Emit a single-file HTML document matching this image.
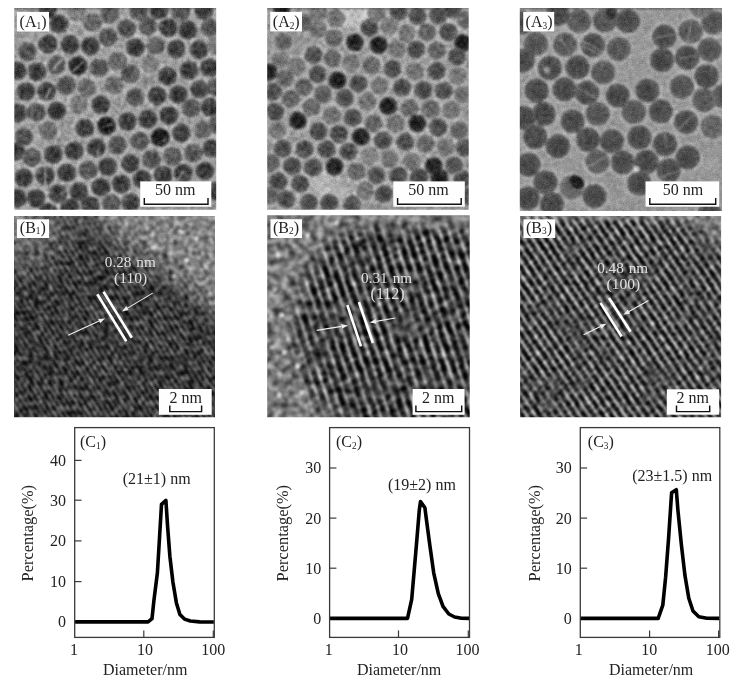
<!DOCTYPE html><html><head><meta charset="utf-8"><title>fig</title>
<style>html,body{margin:0;padding:0;background:#fff;overflow:hidden}svg{display:block}text{font-family:"Liberation Serif",serif}</style>
</head><body>
<svg width="738" height="690" viewBox="0 0 738 690">
<defs>
<radialGradient id="ga11" cx="0.5" cy="0.5" r="0.5"><stop offset="0" stop-color="#787878"/><stop offset="0.6" stop-color="#7a7a7a"/><stop offset="0.92" stop-color="#808080"/><stop offset="1" stop-color="#8c8c8c"/></radialGradient>
<radialGradient id="ga12" cx="0.5" cy="0.5" r="0.5"><stop offset="0" stop-color="#646464"/><stop offset="0.6" stop-color="#686868"/><stop offset="0.92" stop-color="#727272"/><stop offset="1" stop-color="#7e7e7e"/></radialGradient>
<radialGradient id="ga13" cx="0.5" cy="0.5" r="0.5"><stop offset="0" stop-color="#525252"/><stop offset="0.6" stop-color="#565656"/><stop offset="0.92" stop-color="#646464"/><stop offset="1" stop-color="#707070"/></radialGradient>
<radialGradient id="ga14" cx="0.5" cy="0.5" r="0.5"><stop offset="0" stop-color="#383838"/><stop offset="0.6" stop-color="#3e3e3e"/><stop offset="0.92" stop-color="#545454"/><stop offset="1" stop-color="#606060"/></radialGradient>
<radialGradient id="ga15" cx="0.5" cy="0.5" r="0.5"><stop offset="0" stop-color="#161616"/><stop offset="0.6" stop-color="#1e1e1e"/><stop offset="0.92" stop-color="#3e3e3e"/><stop offset="1" stop-color="#4a4a4a"/></radialGradient>
<radialGradient id="ga21" cx="0.5" cy="0.5" r="0.5"><stop offset="0" stop-color="#808080"/><stop offset="0.6" stop-color="#828282"/><stop offset="0.92" stop-color="#888888"/><stop offset="1" stop-color="#949494"/></radialGradient>
<radialGradient id="ga22" cx="0.5" cy="0.5" r="0.5"><stop offset="0" stop-color="#707070"/><stop offset="0.6" stop-color="#747474"/><stop offset="0.92" stop-color="#7c7c7c"/><stop offset="1" stop-color="#888888"/></radialGradient>
<radialGradient id="ga23" cx="0.5" cy="0.5" r="0.5"><stop offset="0" stop-color="#606060"/><stop offset="0.6" stop-color="#646464"/><stop offset="0.92" stop-color="#707070"/><stop offset="1" stop-color="#7c7c7c"/></radialGradient>
<radialGradient id="ga24" cx="0.5" cy="0.5" r="0.5"><stop offset="0" stop-color="#464646"/><stop offset="0.6" stop-color="#4e4e4e"/><stop offset="0.92" stop-color="#606060"/><stop offset="1" stop-color="#6c6c6c"/></radialGradient>
<radialGradient id="ga25" cx="0.5" cy="0.5" r="0.5"><stop offset="0" stop-color="#1a1a1a"/><stop offset="0.6" stop-color="#222222"/><stop offset="0.92" stop-color="#444444"/><stop offset="1" stop-color="#505050"/></radialGradient>
<radialGradient id="ga31" cx="0.5" cy="0.5" r="0.5"><stop offset="0" stop-color="#727272"/><stop offset="0.6" stop-color="#747474"/><stop offset="0.92" stop-color="#7c7c7c"/><stop offset="1" stop-color="#888888"/></radialGradient>
<radialGradient id="ga32" cx="0.5" cy="0.5" r="0.5"><stop offset="0" stop-color="#626262"/><stop offset="0.6" stop-color="#666666"/><stop offset="0.92" stop-color="#707070"/><stop offset="1" stop-color="#7c7c7c"/></radialGradient>
<radialGradient id="ga33" cx="0.5" cy="0.5" r="0.5"><stop offset="0" stop-color="#545454"/><stop offset="0.6" stop-color="#585858"/><stop offset="0.92" stop-color="#646464"/><stop offset="1" stop-color="#707070"/></radialGradient>
<radialGradient id="ga34" cx="0.5" cy="0.5" r="0.5"><stop offset="0" stop-color="#464646"/><stop offset="0.6" stop-color="#4c4c4c"/><stop offset="0.92" stop-color="#5a5a5a"/><stop offset="1" stop-color="#666666"/></radialGradient>
<radialGradient id="ga35" cx="0.5" cy="0.5" r="0.5"><stop offset="0" stop-color="#242424"/><stop offset="0.6" stop-color="#2e2e2e"/><stop offset="0.92" stop-color="#4c4c4c"/><stop offset="1" stop-color="#585858"/></radialGradient>
<filter id="fa1" filterUnits="userSpaceOnUse" x="-6" y="-6" width="215" height="215" color-interpolation-filters="sRGB"><feTurbulence type="fractalNoise" baseFrequency="0.3" numOctaves="2" seed="3" result="n"/><feColorMatrix in="n" type="matrix" values="1 0 0 0 0  1 0 0 0 0  1 0 0 0 0  0 0 0 0 1" result="ng"/><feComposite in="SourceGraphic" in2="ng" operator="arithmetic" k1="0" k2="1" k3="0.55" k4="-0.275" result="r0"/><feGaussianBlur in="r0" stdDeviation="0.85" result="r1a"/><feTurbulence type="fractalNoise" baseFrequency="0.85" numOctaves="1" seed="53" result="nf"/><feColorMatrix in="nf" type="matrix" values="1 0 0 0 0  1 0 0 0 0  1 0 0 0 0  0 0 0 0 1" result="nfg"/><feComposite in="r1a" in2="nfg" operator="arithmetic" k1="0" k2="1" k3="0.22" k4="-0.11" result="r1"/><feTurbulence type="fractalNoise" baseFrequency="0.06" numOctaves="2" seed="11" result="n2"/><feColorMatrix in="n2" type="matrix" values="1 0 0 0 0  1 0 0 0 0  1 0 0 0 0  0 0 0 0 1" result="ng2"/><feComposite in="r1" in2="ng2" operator="arithmetic" k1="0" k2="1" k3="0.14" k4="-0.07" result="r2"/></filter>
<filter id="fa2" filterUnits="userSpaceOnUse" x="-6" y="-6" width="215" height="215" color-interpolation-filters="sRGB"><feTurbulence type="fractalNoise" baseFrequency="0.3" numOctaves="2" seed="7" result="n"/><feColorMatrix in="n" type="matrix" values="1 0 0 0 0  1 0 0 0 0  1 0 0 0 0  0 0 0 0 1" result="ng"/><feComposite in="SourceGraphic" in2="ng" operator="arithmetic" k1="0" k2="1" k3="0.5" k4="-0.25" result="r0"/><feGaussianBlur in="r0" stdDeviation="0.9" result="r1a"/><feTurbulence type="fractalNoise" baseFrequency="0.85" numOctaves="1" seed="57" result="nf"/><feColorMatrix in="nf" type="matrix" values="1 0 0 0 0  1 0 0 0 0  1 0 0 0 0  0 0 0 0 1" result="nfg"/><feComposite in="r1a" in2="nfg" operator="arithmetic" k1="0" k2="1" k3="0.22" k4="-0.11" result="r1"/><feTurbulence type="fractalNoise" baseFrequency="0.06" numOctaves="2" seed="21" result="n2"/><feColorMatrix in="n2" type="matrix" values="1 0 0 0 0  1 0 0 0 0  1 0 0 0 0  0 0 0 0 1" result="ng2"/><feComposite in="r1" in2="ng2" operator="arithmetic" k1="0" k2="1" k3="0.14" k4="-0.07" result="r2"/></filter>
<filter id="fa3" filterUnits="userSpaceOnUse" x="-6" y="-6" width="215" height="215" color-interpolation-filters="sRGB"><feTurbulence type="fractalNoise" baseFrequency="0.32" numOctaves="2" seed="13" result="n"/><feColorMatrix in="n" type="matrix" values="1 0 0 0 0  1 0 0 0 0  1 0 0 0 0  0 0 0 0 1" result="ng"/><feComposite in="SourceGraphic" in2="ng" operator="arithmetic" k1="0" k2="1" k3="0.36" k4="-0.18" result="r0"/><feGaussianBlur in="r0" stdDeviation="0.82" result="r1a"/><feTurbulence type="fractalNoise" baseFrequency="0.85" numOctaves="1" seed="63" result="nf"/><feColorMatrix in="nf" type="matrix" values="1 0 0 0 0  1 0 0 0 0  1 0 0 0 0  0 0 0 0 1" result="nfg"/><feComposite in="r1a" in2="nfg" operator="arithmetic" k1="0" k2="1" k3="0.22" k4="-0.11" result="r1"/><feTurbulence type="fractalNoise" baseFrequency="0.06" numOctaves="2" seed="31" result="n2"/><feColorMatrix in="n2" type="matrix" values="1 0 0 0 0  1 0 0 0 0  1 0 0 0 0  0 0 0 0 1" result="ng2"/><feComposite in="r1" in2="ng2" operator="arithmetic" k1="0" k2="1" k3="0.08" k4="-0.04" result="r2"/></filter>
<filter id="halo" x="-30%" y="-30%" width="160%" height="160%"><feGaussianBlur stdDeviation="1.2"/></filter>
<filter id="soft6" x="-30%" y="-30%" width="160%" height="160%"><feGaussianBlur stdDeviation="6"/></filter>
<filter id="soft10" x="-30%" y="-30%" width="160%" height="160%"><feGaussianBlur stdDeviation="10"/></filter>
<filter id="soft3" x="-30%" y="-30%" width="160%" height="160%"><feGaussianBlur stdDeviation="3"/></filter>
<filter id="fb1c" filterUnits="userSpaceOnUse" x="-8" y="-8" width="219" height="219" color-interpolation-filters="sRGB"><feTurbulence type="fractalNoise" baseFrequency="0.03" numOctaves="2" seed="4" result="t1"/><feColorMatrix in="t1" type="matrix" values="1.8 0 0 0 -0.1  1.8 0 0 0 -0.1  1.8 0 0 0 -0.1  0 0 0 0 1" result="m1"/><feComposite in="SourceGraphic" in2="m1" operator="arithmetic" k1="1" k2="0" k3="-0.2" k4="0.2"/></filter><filter id="fb1" filterUnits="userSpaceOnUse" x="-6" y="-6" width="215" height="215" color-interpolation-filters="sRGB"><feTurbulence type="fractalNoise" baseFrequency="0.2" numOctaves="2" seed="8" result="t2"/><feColorMatrix in="t2" type="matrix" values="1 0 0 0 0  1 0 0 0 0  1 0 0 0 0  0 0 0 0 1" result="m2"/><feComposite in="SourceGraphic" in2="m2" operator="arithmetic" k1="0" k2="1" k3="0.85" k4="-0.425" result="s2"/><feGaussianBlur in="s2" stdDeviation="0.9" result="s2b"/><feTurbulence type="fractalNoise" baseFrequency="0.7" numOctaves="1" seed="15" result="t3"/><feColorMatrix in="t3" type="matrix" values="1 0 0 0 0  1 0 0 0 0  1 0 0 0 0  0 0 0 0 1" result="m3"/><feComposite in="s2b" in2="m3" operator="arithmetic" k1="0" k2="1" k3="0.1" k4="-0.05"/></filter>
<filter id="fb2c" filterUnits="userSpaceOnUse" x="-8" y="-8" width="219" height="219" color-interpolation-filters="sRGB"><feTurbulence type="fractalNoise" baseFrequency="0.025" numOctaves="2" seed="24" result="t1"/><feColorMatrix in="t1" type="matrix" values="1.8 0 0 0 -0.1  1.8 0 0 0 -0.1  1.8 0 0 0 -0.1  0 0 0 0 1" result="m1"/><feComposite in="SourceGraphic" in2="m1" operator="arithmetic" k1="1" k2="0" k3="-0.27" k4="0.27"/></filter><filter id="fb2" filterUnits="userSpaceOnUse" x="-6" y="-6" width="215" height="215" color-interpolation-filters="sRGB"><feTurbulence type="fractalNoise" baseFrequency="0.14" numOctaves="2" seed="28" result="t2"/><feColorMatrix in="t2" type="matrix" values="1 0 0 0 0  1 0 0 0 0  1 0 0 0 0  0 0 0 0 1" result="m2"/><feComposite in="SourceGraphic" in2="m2" operator="arithmetic" k1="0" k2="1" k3="0.9" k4="-0.45" result="s2"/><feGaussianBlur in="s2" stdDeviation="1.0" result="s2b"/><feTurbulence type="fractalNoise" baseFrequency="0.7" numOctaves="1" seed="35" result="t3"/><feColorMatrix in="t3" type="matrix" values="1 0 0 0 0  1 0 0 0 0  1 0 0 0 0  0 0 0 0 1" result="m3"/><feComposite in="s2b" in2="m3" operator="arithmetic" k1="0" k2="1" k3="0.08" k4="-0.04"/></filter>
<filter id="fb3c" filterUnits="userSpaceOnUse" x="-8" y="-8" width="219" height="219" color-interpolation-filters="sRGB"><feTurbulence type="fractalNoise" baseFrequency="0.025" numOctaves="2" seed="44" result="t1"/><feColorMatrix in="t1" type="matrix" values="2.0 0 0 0 -0.15  2.0 0 0 0 -0.15  2.0 0 0 0 -0.15  0 0 0 0 1" result="m1"/><feComposite in="SourceGraphic" in2="m1" operator="arithmetic" k1="1" k2="0" k3="-0.25" k4="0.25"/></filter><filter id="fb3" filterUnits="userSpaceOnUse" x="-6" y="-6" width="215" height="215" color-interpolation-filters="sRGB"><feTurbulence type="fractalNoise" baseFrequency="0.2" numOctaves="2" seed="48" result="t2"/><feColorMatrix in="t2" type="matrix" values="1 0 0 0 0  1 0 0 0 0  1 0 0 0 0  0 0 0 0 1" result="m2"/><feComposite in="SourceGraphic" in2="m2" operator="arithmetic" k1="0" k2="1" k3="0.95" k4="-0.475" result="s2"/><feGaussianBlur in="s2" stdDeviation="0.9" result="s2b"/><feTurbulence type="fractalNoise" baseFrequency="0.7" numOctaves="1" seed="55" result="t3"/><feColorMatrix in="t3" type="matrix" values="1 0 0 0 0  1 0 0 0 0  1 0 0 0 0  0 0 0 0 1" result="m3"/><feComposite in="s2b" in2="m3" operator="arithmetic" k1="0" k2="1" k3="0.08" k4="-0.04"/></filter>
<linearGradient id="pb1g" x1="0" y1="0" x2="1" y2="0"><stop offset="0" stop-color="#000000"/><stop offset="0.25" stop-color="#0a0a0a"/><stop offset="0.55" stop-color="#969696"/><stop offset="0.7" stop-color="#969696"/><stop offset="1" stop-color="#000000"/></linearGradient><pattern id="pb1" patternUnits="userSpaceOnUse" width="4.9" height="20" patternTransform="rotate(-32)"><rect x="0" y="0" width="4.9" height="20" fill="url(#pb1g)"/></pattern>
<linearGradient id="pb2g" x1="0" y1="0" x2="1" y2="0"><stop offset="0" stop-color="#000000"/><stop offset="0.4" stop-color="#0a0a0a"/><stop offset="0.64" stop-color="#bebebe"/><stop offset="0.78" stop-color="#bebebe"/><stop offset="0.94" stop-color="#1e1e1e"/><stop offset="1" stop-color="#000000"/></linearGradient><pattern id="pb2" patternUnits="userSpaceOnUse" width="8.9" height="20" patternTransform="rotate(-19)"><rect x="0" y="0" width="8.9" height="20" fill="url(#pb2g)"/></pattern>
<linearGradient id="pb2cg" x1="0" y1="0" x2="1" y2="0"><stop offset="0" stop-color="#000000"/><stop offset="0.5" stop-color="#ffffff"/><stop offset="1" stop-color="#000000"/></linearGradient><pattern id="pb2c" patternUnits="userSpaceOnUse" width="7.5" height="20" patternTransform="rotate(62)"><rect x="0" y="0" width="7.5" height="20" fill="url(#pb2cg)"/></pattern>
<linearGradient id="pb3g" x1="0" y1="0" x2="1" y2="0"><stop offset="0" stop-color="#000000"/><stop offset="0.4" stop-color="#080808"/><stop offset="0.6" stop-color="#d7d7d7"/><stop offset="0.74" stop-color="#d7d7d7"/><stop offset="0.92" stop-color="#191919"/><stop offset="1" stop-color="#000000"/></linearGradient><pattern id="pb3" patternUnits="userSpaceOnUse" width="7.4" height="20" patternTransform="rotate(-34)"><rect x="0" y="0" width="7.4" height="20" fill="url(#pb3g)"/></pattern>
<linearGradient id="pb3cg" x1="0" y1="0" x2="1" y2="0"><stop offset="0" stop-color="#000000"/><stop offset="0.5" stop-color="#ffffff"/><stop offset="1" stop-color="#000000"/></linearGradient><pattern id="pb3c" patternUnits="userSpaceOnUse" width="5" height="20" patternTransform="rotate(50)"><rect x="0" y="0" width="5" height="20" fill="url(#pb3cg)"/></pattern>
<linearGradient id="lgb1" gradientUnits="userSpaceOnUse" x1="124" y1="62" x2="146" y2="32"><stop offset="0" stop-color="#949494" stop-opacity="0"/><stop offset="1" stop-color="#949494" stop-opacity="0.8"/></linearGradient>
<radialGradient id="rgb1" gradientUnits="userSpaceOnUse" cx="0" cy="0" r="75"><stop offset="0" stop-color="#888" stop-opacity="0.75"/><stop offset="0.5" stop-color="#888" stop-opacity="0.55"/><stop offset="1" stop-color="#888" stop-opacity="0"/></radialGradient>
<radialGradient id="rgb2" gradientUnits="userSpaceOnUse" cx="145" cy="114" r="150"><stop offset="0" stop-color="#7e7e7e" stop-opacity="0"/><stop offset="0.7" stop-color="#7e7e7e" stop-opacity="0"/><stop offset="0.78" stop-color="#7e7e7e" stop-opacity="0.45"/><stop offset="0.87" stop-color="#7e7e7e" stop-opacity="0.93"/><stop offset="1" stop-color="#7e7e7e" stop-opacity="0.93"/></radialGradient>
<linearGradient id="lgb2t" gradientUnits="userSpaceOnUse" x1="0" y1="24" x2="0" y2="4"><stop offset="0" stop-color="#7e7e7e" stop-opacity="0"/><stop offset="1" stop-color="#7e7e7e" stop-opacity="0.85"/></linearGradient>
<linearGradient id="lgb3" gradientUnits="userSpaceOnUse" x1="172" y1="22" x2="184" y2="6"><stop offset="0" stop-color="#808080" stop-opacity="0"/><stop offset="1" stop-color="#808080" stop-opacity="0.85"/></linearGradient>
<linearGradient id="lgb3t" gradientUnits="userSpaceOnUse" x1="0" y1="9" x2="0" y2="1"><stop offset="0" stop-color="#8a8a8a" stop-opacity="0"/><stop offset="1" stop-color="#8a8a8a" stop-opacity="0.75"/></linearGradient>
<radialGradient id="rga2a" cx="0.5" cy="0.5" r="0.5"><stop offset="0" stop-color="#c8c8c8" stop-opacity="1"/><stop offset="0.5" stop-color="#c8c8c8" stop-opacity="0.8"/><stop offset="1" stop-color="#c8c8c8" stop-opacity="0"/></radialGradient>
<radialGradient id="rga2b" cx="0.5" cy="0.5" r="0.5"><stop offset="0" stop-color="#b4b4b4" stop-opacity="1"/><stop offset="0.5" stop-color="#b4b4b4" stop-opacity="0.8"/><stop offset="1" stop-color="#b4b4b4" stop-opacity="0"/></radialGradient>
</defs>
<svg x="14.3" y="8" width="201.9" height="201.8" viewBox="0 0 201.9 201.8">
<g filter="url(#fa1)">
<rect x="-8" y="-8" width="217.9" height="217.8" fill="#949494"/>

<g filter="url(#halo)" fill="none" stroke="#e0e0e0" stroke-width="1.7" opacity="0.5">
<circle cx="44.7" cy="16.1" r="10.799999999999999"/>
<circle cx="78.3" cy="14.6" r="10.799999999999999"/>
<circle cx="95.2" cy="5.9" r="10.799999999999999"/>
<circle cx="63" cy="4.4" r="10.799999999999999"/>
<circle cx="93.7" cy="29.3" r="10.799999999999999"/>
<circle cx="33.7" cy="35.9" r="10.799999999999999"/>
<circle cx="55.6" cy="36.6" r="10.799999999999999"/>
<circle cx="76.1" cy="38.1" r="10.799999999999999"/>
<circle cx="13.2" cy="43.9" r="10.799999999999999"/>
<circle cx="42.5" cy="57.1" r="10.799999999999999"/>
<circle cx="63.7" cy="57.8" r="10.799999999999999"/>
<circle cx="84.9" cy="60" r="10.799999999999999"/>
<circle cx="103" cy="53" r="10.799999999999999"/>
<circle cx="2.9" cy="63" r="10.799999999999999"/>
<circle cx="22.7" cy="63.7" r="10.799999999999999"/>
<circle cx="52" cy="77.6" r="10.799999999999999"/>
<circle cx="72.5" cy="79.8" r="10.799999999999999"/>
<circle cx="100" cy="77" r="10.799999999999999"/>
<circle cx="11.7" cy="83.5" r="10.799999999999999"/>
<circle cx="32.2" cy="83.5" r="10.799999999999999"/>
<circle cx="64.4" cy="97" r="10.799999999999999"/>
<circle cx="86.4" cy="97" r="10.799999999999999"/>
<circle cx="42.5" cy="103" r="10.799999999999999"/>
<circle cx="3.7" cy="105" r="10.799999999999999"/>
<circle cx="22" cy="104" r="10.799999999999999"/>
<circle cx="33.7" cy="1.5" r="10.799999999999999"/>
<circle cx="124.7" cy="3.7" r="10.799999999999999"/>
<circle cx="144.5" cy="2.2" r="10.799999999999999"/>
<circle cx="166.4" cy="4.4" r="10.799999999999999"/>
<circle cx="189.8" cy="2.9" r="10.799999999999999"/>
<circle cx="112.2" cy="20.5" r="10.799999999999999"/>
<circle cx="133.5" cy="18.3" r="10.799999999999999"/>
<circle cx="154" cy="19.8" r="10.799999999999999"/>
<circle cx="173.7" cy="22" r="10.799999999999999"/>
<circle cx="195.7" cy="19.8" r="10.799999999999999"/>
<circle cx="121" cy="39.5" r="10.799999999999999"/>
<circle cx="141.5" cy="37.3" r="10.799999999999999"/>
<circle cx="162" cy="41" r="10.799999999999999"/>
<circle cx="184.7" cy="41.7" r="10.799999999999999"/>
<circle cx="201.6" cy="38" r="10.799999999999999"/>
<circle cx="135.7" cy="55.6" r="10.799999999999999"/>
<circle cx="153.2" cy="68.1" r="10.799999999999999"/>
<circle cx="174.5" cy="62.2" r="10.799999999999999"/>
<circle cx="195" cy="60" r="10.799999999999999"/>
<circle cx="115.9" cy="65.9" r="10.799999999999999"/>
<circle cx="121" cy="89.3" r="10.799999999999999"/>
<circle cx="143" cy="87.8" r="10.799999999999999"/>
<circle cx="164.2" cy="86.4" r="10.799999999999999"/>
<circle cx="185.5" cy="81.3" r="10.799999999999999"/>
<circle cx="201.6" cy="79" r="10.799999999999999"/>
<circle cx="195.7" cy="99" r="10.799999999999999"/>
<circle cx="176.7" cy="100" r="10.799999999999999"/>
<circle cx="9.5" cy="128.8" r="10.799999999999999"/>
<circle cx="33.7" cy="123" r="10.799999999999999"/>
<circle cx="70.3" cy="120" r="10.799999999999999"/>
<circle cx="92.2" cy="117.8" r="10.799999999999999"/>
<circle cx="1.5" cy="143.5" r="10.799999999999999"/>
<circle cx="17.6" cy="149.3" r="10.799999999999999"/>
<circle cx="38.8" cy="146.4" r="10.799999999999999"/>
<circle cx="60" cy="142.7" r="10.799999999999999"/>
<circle cx="82" cy="139.8" r="10.799999999999999"/>
<circle cx="103" cy="137" r="10.799999999999999"/>
<circle cx="9.5" cy="169.8" r="10.799999999999999"/>
<circle cx="30.7" cy="167.6" r="10.799999999999999"/>
<circle cx="52.7" cy="164.7" r="10.799999999999999"/>
<circle cx="73.9" cy="161.8" r="10.799999999999999"/>
<circle cx="93.7" cy="158.8" r="10.799999999999999"/>
<circle cx="2.9" cy="190.3" r="10.799999999999999"/>
<circle cx="22" cy="190.3" r="10.799999999999999"/>
<circle cx="43.9" cy="185.9" r="10.799999999999999"/>
<circle cx="64.4" cy="183.7" r="10.799999999999999"/>
<circle cx="86.4" cy="179.3" r="10.799999999999999"/>
<circle cx="107" cy="176" r="10.799999999999999"/>
<circle cx="55.6" cy="199.8" r="10.799999999999999"/>
<circle cx="76.1" cy="197.6" r="10.799999999999999"/>
<circle cx="97.2" cy="195.5" r="10.799999999999999"/>
<circle cx="33.7" cy="204" r="10.799999999999999"/>
<circle cx="113" cy="113.4" r="10.799999999999999"/>
<circle cx="133.5" cy="111.2" r="10.799999999999999"/>
<circle cx="154.7" cy="107.6" r="10.799999999999999"/>
<circle cx="125.4" cy="133.2" r="10.799999999999999"/>
<circle cx="145.9" cy="129.5" r="10.799999999999999"/>
<circle cx="167.2" cy="125.2" r="10.799999999999999"/>
<circle cx="188.4" cy="121.5" r="10.799999999999999"/>
<circle cx="203" cy="117" r="10.799999999999999"/>
<circle cx="115.9" cy="155.2" r="10.799999999999999"/>
<circle cx="137.1" cy="151.5" r="10.799999999999999"/>
<circle cx="158.4" cy="148.6" r="10.799999999999999"/>
<circle cx="178.9" cy="144.9" r="10.799999999999999"/>
<circle cx="197.2" cy="140.5" r="10.799999999999999"/>
<circle cx="127.6" cy="171.3" r="10.799999999999999"/>
<circle cx="148.9" cy="166.9" r="10.799999999999999"/>
<circle cx="169.3" cy="165.4" r="10.799999999999999"/>
<circle cx="190.6" cy="163.2" r="10.799999999999999"/>
<circle cx="116.6" cy="194.7" r="10.799999999999999"/>
<circle cx="201.6" cy="183" r="10.799999999999999"/>
</g>
<circle cx="44.7" cy="16.1" r="9.6" fill="url(#ga14)"/>
<circle cx="78.3" cy="14.6" r="9.6" fill="url(#ga12)"/>
<circle cx="95.2" cy="5.9" r="9.6" fill="url(#ga13)"/>
<circle cx="63" cy="4.4" r="9.6" fill="url(#ga11)"/>
<circle cx="93.7" cy="29.3" r="9.6" fill="url(#ga13)"/>
<circle cx="33.7" cy="35.9" r="9.6" fill="url(#ga14)"/>
<circle cx="55.6" cy="36.6" r="9.6" fill="url(#ga14)"/>
<circle cx="76.1" cy="38.1" r="9.6" fill="url(#ga14)"/>
<circle cx="13.2" cy="43.9" r="9.6" fill="url(#ga13)"/>
<circle cx="42.5" cy="57.1" r="9.6" fill="url(#ga13)"/>
<circle cx="63.7" cy="57.8" r="9.6" fill="url(#ga15)"/>
<circle cx="84.9" cy="60" r="9.6" fill="url(#ga13)"/>
<circle cx="103" cy="53" r="9.6" fill="url(#ga12)"/>
<circle cx="2.9" cy="63" r="9.6" fill="url(#ga14)"/>
<circle cx="22.7" cy="63.7" r="9.6" fill="url(#ga14)"/>
<circle cx="52" cy="77.6" r="9.6" fill="url(#ga13)"/>
<circle cx="72.5" cy="79.8" r="9.6" fill="url(#ga12)"/>
<circle cx="100" cy="77" r="9.6" fill="url(#ga12)"/>
<circle cx="11.7" cy="83.5" r="9.6" fill="url(#ga14)"/>
<circle cx="32.2" cy="83.5" r="9.6" fill="url(#ga14)"/>
<circle cx="64.4" cy="97" r="9.6" fill="url(#ga11)"/>
<circle cx="86.4" cy="97" r="9.6" fill="url(#ga14)"/>
<circle cx="42.5" cy="103" r="9.6" fill="url(#ga14)"/>
<circle cx="3.7" cy="105" r="9.6" fill="url(#ga14)"/>
<circle cx="22" cy="104" r="9.6" fill="url(#ga13)"/>
<circle cx="33.7" cy="1.5" r="9.6" fill="url(#ga14)"/>
<circle cx="124.7" cy="3.7" r="9.6" fill="url(#ga13)"/>
<circle cx="144.5" cy="2.2" r="9.6" fill="url(#ga14)"/>
<circle cx="166.4" cy="4.4" r="9.6" fill="url(#ga13)"/>
<circle cx="189.8" cy="2.9" r="9.6" fill="url(#ga14)"/>
<circle cx="112.2" cy="20.5" r="9.6" fill="url(#ga13)"/>
<circle cx="133.5" cy="18.3" r="9.6" fill="url(#ga13)"/>
<circle cx="154" cy="19.8" r="9.6" fill="url(#ga14)"/>
<circle cx="173.7" cy="22" r="9.6" fill="url(#ga14)"/>
<circle cx="195.7" cy="19.8" r="9.6" fill="url(#ga13)"/>
<circle cx="121" cy="39.5" r="9.6" fill="url(#ga14)"/>
<circle cx="141.5" cy="37.3" r="9.6" fill="url(#ga12)"/>
<circle cx="162" cy="41" r="9.6" fill="url(#ga14)"/>
<circle cx="184.7" cy="41.7" r="9.6" fill="url(#ga14)"/>
<circle cx="201.6" cy="38" r="9.6" fill="url(#ga11)"/>
<circle cx="135.7" cy="55.6" r="9.6" fill="url(#ga11)"/>
<circle cx="153.2" cy="68.1" r="9.6" fill="url(#ga14)"/>
<circle cx="174.5" cy="62.2" r="9.6" fill="url(#ga14)"/>
<circle cx="195" cy="60" r="9.6" fill="url(#ga14)"/>
<circle cx="115.9" cy="65.9" r="9.6" fill="url(#ga13)"/>
<circle cx="121" cy="89.3" r="9.6" fill="url(#ga13)"/>
<circle cx="143" cy="87.8" r="9.6" fill="url(#ga14)"/>
<circle cx="164.2" cy="86.4" r="9.6" fill="url(#ga14)"/>
<circle cx="185.5" cy="81.3" r="9.6" fill="url(#ga14)"/>
<circle cx="201.6" cy="79" r="9.6" fill="url(#ga13)"/>
<circle cx="195.7" cy="99" r="9.6" fill="url(#ga14)"/>
<circle cx="176.7" cy="100" r="9.6" fill="url(#ga13)"/>
<circle cx="9.5" cy="128.8" r="9.6" fill="url(#ga13)"/>
<circle cx="33.7" cy="123" r="9.6" fill="url(#ga12)"/>
<circle cx="70.3" cy="120" r="9.6" fill="url(#ga14)"/>
<circle cx="92.2" cy="117.8" r="9.6" fill="url(#ga15)"/>
<circle cx="1.5" cy="143.5" r="9.6" fill="url(#ga14)"/>
<circle cx="17.6" cy="149.3" r="9.6" fill="url(#ga13)"/>
<circle cx="38.8" cy="146.4" r="9.6" fill="url(#ga14)"/>
<circle cx="60" cy="142.7" r="9.6" fill="url(#ga14)"/>
<circle cx="82" cy="139.8" r="9.6" fill="url(#ga14)"/>
<circle cx="103" cy="137" r="9.6" fill="url(#ga13)"/>
<circle cx="9.5" cy="169.8" r="9.6" fill="url(#ga14)"/>
<circle cx="30.7" cy="167.6" r="9.6" fill="url(#ga14)"/>
<circle cx="52.7" cy="164.7" r="9.6" fill="url(#ga14)"/>
<circle cx="73.9" cy="161.8" r="9.6" fill="url(#ga13)"/>
<circle cx="93.7" cy="158.8" r="9.6" fill="url(#ga14)"/>
<circle cx="2.9" cy="190.3" r="9.6" fill="url(#ga14)"/>
<circle cx="22" cy="190.3" r="9.6" fill="url(#ga14)"/>
<circle cx="43.9" cy="185.9" r="9.6" fill="url(#ga14)"/>
<circle cx="64.4" cy="183.7" r="9.6" fill="url(#ga14)"/>
<circle cx="86.4" cy="179.3" r="9.6" fill="url(#ga14)"/>
<circle cx="107" cy="176" r="9.6" fill="url(#ga14)"/>
<circle cx="55.6" cy="199.8" r="9.6" fill="url(#ga14)"/>
<circle cx="76.1" cy="197.6" r="9.6" fill="url(#ga14)"/>
<circle cx="97.2" cy="195.5" r="9.6" fill="url(#ga13)"/>
<circle cx="33.7" cy="204" r="9.6" fill="url(#ga14)"/>
<circle cx="113" cy="113.4" r="9.6" fill="url(#ga14)"/>
<circle cx="133.5" cy="111.2" r="9.6" fill="url(#ga14)"/>
<circle cx="154.7" cy="107.6" r="9.6" fill="url(#ga14)"/>
<circle cx="125.4" cy="133.2" r="9.6" fill="url(#ga13)"/>
<circle cx="145.9" cy="129.5" r="9.6" fill="url(#ga15)"/>
<circle cx="167.2" cy="125.2" r="9.6" fill="url(#ga14)"/>
<circle cx="188.4" cy="121.5" r="9.6" fill="url(#ga12)"/>
<circle cx="203" cy="117" r="9.6" fill="url(#ga13)"/>
<circle cx="115.9" cy="155.2" r="9.6" fill="url(#ga14)"/>
<circle cx="137.1" cy="151.5" r="9.6" fill="url(#ga13)"/>
<circle cx="158.4" cy="148.6" r="9.6" fill="url(#ga13)"/>
<circle cx="178.9" cy="144.9" r="9.6" fill="url(#ga13)"/>
<circle cx="197.2" cy="140.5" r="9.6" fill="url(#ga14)"/>
<circle cx="127.6" cy="171.3" r="9.6" fill="url(#ga14)"/>
<circle cx="148.9" cy="166.9" r="9.6" fill="url(#ga14)"/>
<circle cx="169.3" cy="165.4" r="9.6" fill="url(#ga14)"/>
<circle cx="190.6" cy="163.2" r="9.6" fill="url(#ga14)"/>
<circle cx="116.6" cy="194.7" r="9.6" fill="url(#ga14)"/>
<circle cx="201.6" cy="183" r="9.6" fill="url(#ga14)"/>
<g stroke="#d0d0d0" stroke-width="1.3" opacity="0.85" stroke-linecap="round"><path d="M38 62 L47 52"/><path d="M59 63 L69 54"/><path d="M31 159 L31 176"/><path d="M88 119 L98 116"/><path d="M83 142 L84 148"/><path d="M164 171 L169 163"/><path d="M46 186 L52 183"/><path d="M32 90 L36 80"/><path d="M148 133 L151 131"/></g>
<rect x="-8" y="-1" width="217.9" height="2" fill="#303030" opacity="0.55"/>
</g>
</svg>
<svg x="267.2" y="8" width="201.5" height="201.8" viewBox="0 0 201.5 201.8">
<g filter="url(#fa2)">
<rect x="-8" y="-8" width="217.5" height="217.8" fill="#939393"/>
<ellipse cx="92" cy="8" rx="26" ry="20" fill="url(#rga2a)"/><ellipse cx="63" cy="177" rx="30" ry="22" fill="url(#rga2b)"/>
<g filter="url(#halo)" fill="none" stroke="#e0e0e0" stroke-width="1.7" opacity="0.5">
<circle cx="51.2" cy="5.1" r="10.399999999999999"/>
<circle cx="68.8" cy="10.2" r="10.399999999999999"/>
<circle cx="50.5" cy="21.2" r="10.399999999999999"/>
<circle cx="66.6" cy="30" r="10.399999999999999"/>
<circle cx="87.8" cy="34.4" r="10.399999999999999"/>
<circle cx="102.5" cy="19.5" r="10.399999999999999"/>
<circle cx="16.1" cy="33.7" r="10.399999999999999"/>
<circle cx="46.1" cy="46.9" r="10.399999999999999"/>
<circle cx="65.2" cy="50.5" r="10.399999999999999"/>
<circle cx="83.5" cy="54.9" r="10.399999999999999"/>
<circle cx="13.2" cy="52" r="10.399999999999999"/>
<circle cx="29.3" cy="58.6" r="10.399999999999999"/>
<circle cx="1.5" cy="64.4" r="10.399999999999999"/>
<circle cx="50.5" cy="65.9" r="10.399999999999999"/>
<circle cx="70.3" cy="72.5" r="10.399999999999999"/>
<circle cx="91.5" cy="75.4" r="10.399999999999999"/>
<circle cx="17.6" cy="70.3" r="10.399999999999999"/>
<circle cx="36.6" cy="79" r="10.399999999999999"/>
<circle cx="55.6" cy="86.4" r="10.399999999999999"/>
<circle cx="77.6" cy="90" r="10.399999999999999"/>
<circle cx="5.9" cy="83.5" r="10.399999999999999"/>
<circle cx="23.4" cy="90.8" r="10.399999999999999"/>
<circle cx="44" cy="99.5" r="10.399999999999999"/>
<circle cx="100" cy="93.7" r="10.399999999999999"/>
<circle cx="8" cy="103.5" r="10.399999999999999"/>
<circle cx="36.6" cy="14.6" r="10.399999999999999"/>
<circle cx="104" cy="57" r="10.399999999999999"/>
<circle cx="14.6" cy="0" r="10.399999999999999"/>
<circle cx="131.3" cy="3.7" r="10.399999999999999"/>
<circle cx="150.3" cy="8" r="10.399999999999999"/>
<circle cx="170.8" cy="7.3" r="10.399999999999999"/>
<circle cx="185.5" cy="1.5" r="10.399999999999999"/>
<circle cx="198.6" cy="11.7" r="10.399999999999999"/>
<circle cx="122.5" cy="17.6" r="10.399999999999999"/>
<circle cx="139.3" cy="25.6" r="10.399999999999999"/>
<circle cx="159.8" cy="24.2" r="10.399999999999999"/>
<circle cx="181.1" cy="24.2" r="10.399999999999999"/>
<circle cx="195.7" cy="35.1" r="10.399999999999999"/>
<circle cx="111.5" cy="37.3" r="10.399999999999999"/>
<circle cx="129.8" cy="41" r="10.399999999999999"/>
<circle cx="148.9" cy="41.7" r="10.399999999999999"/>
<circle cx="169.3" cy="42.5" r="10.399999999999999"/>
<circle cx="189.8" cy="49" r="10.399999999999999"/>
<circle cx="125.4" cy="60.8" r="10.399999999999999"/>
<circle cx="147.4" cy="63.7" r="10.399999999999999"/>
<circle cx="169.3" cy="63" r="10.399999999999999"/>
<circle cx="190.6" cy="68.1" r="10.399999999999999"/>
<circle cx="112.2" cy="77.6" r="10.399999999999999"/>
<circle cx="134.9" cy="79.8" r="10.399999999999999"/>
<circle cx="156.2" cy="82" r="10.399999999999999"/>
<circle cx="176.7" cy="82.7" r="10.399999999999999"/>
<circle cx="196.4" cy="86.4" r="10.399999999999999"/>
<circle cx="121" cy="98" r="10.399999999999999"/>
<circle cx="142.3" cy="100" r="10.399999999999999"/>
<circle cx="163.5" cy="101" r="10.399999999999999"/>
<circle cx="184" cy="102" r="10.399999999999999"/>
<circle cx="109.3" cy="5.1" r="10.399999999999999"/>
<circle cx="30.7" cy="112.7" r="10.399999999999999"/>
<circle cx="64.4" cy="107.6" r="10.399999999999999"/>
<circle cx="85.7" cy="109.8" r="10.399999999999999"/>
<circle cx="10.2" cy="122.2" r="10.399999999999999"/>
<circle cx="51.2" cy="123" r="10.399999999999999"/>
<circle cx="71.7" cy="125.9" r="10.399999999999999"/>
<circle cx="93.7" cy="128.8" r="10.399999999999999"/>
<circle cx="15.4" cy="140.5" r="10.399999999999999"/>
<circle cx="37.3" cy="141.3" r="10.399999999999999"/>
<circle cx="59.3" cy="141.3" r="10.399999999999999"/>
<circle cx="81.3" cy="143.5" r="10.399999999999999"/>
<circle cx="102" cy="148" r="10.399999999999999"/>
<circle cx="3.7" cy="155.2" r="10.399999999999999"/>
<circle cx="24.9" cy="158.1" r="10.399999999999999"/>
<circle cx="46.1" cy="159.6" r="10.399999999999999"/>
<circle cx="67.3" cy="158.8" r="10.399999999999999"/>
<circle cx="89.3" cy="163.2" r="10.399999999999999"/>
<circle cx="11" cy="173.5" r="10.399999999999999"/>
<circle cx="32.9" cy="175.7" r="10.399999999999999"/>
<circle cx="98" cy="183" r="10.399999999999999"/>
<circle cx="19" cy="191" r="10.399999999999999"/>
<circle cx="41.7" cy="194.7" r="10.399999999999999"/>
<circle cx="62.2" cy="194.7" r="10.399999999999999"/>
<circle cx="84.9" cy="196.2" r="10.399999999999999"/>
<circle cx="2.2" cy="187.4" r="10.399999999999999"/>
<circle cx="106.4" cy="115.6" r="10.399999999999999"/>
<circle cx="128.4" cy="115.6" r="10.399999999999999"/>
<circle cx="150.3" cy="115.6" r="10.399999999999999"/>
<circle cx="170.8" cy="119.3" r="10.399999999999999"/>
<circle cx="192" cy="122.2" r="10.399999999999999"/>
<circle cx="115.9" cy="132.5" r="10.399999999999999"/>
<circle cx="137.9" cy="133.9" r="10.399999999999999"/>
<circle cx="158.4" cy="136.1" r="10.399999999999999"/>
<circle cx="178.9" cy="139.1" r="10.399999999999999"/>
<circle cx="197.2" cy="139.8" r="10.399999999999999"/>
<circle cx="122.5" cy="150.8" r="10.399999999999999"/>
<circle cx="144.5" cy="153.7" r="10.399999999999999"/>
<circle cx="166.4" cy="158.1" r="10.399999999999999"/>
<circle cx="186.9" cy="157.4" r="10.399999999999999"/>
<circle cx="109.3" cy="167.6" r="10.399999999999999"/>
<circle cx="131.3" cy="167.6" r="10.399999999999999"/>
<circle cx="151.8" cy="169.1" r="10.399999999999999"/>
<circle cx="172.3" cy="169.8" r="10.399999999999999"/>
<circle cx="195.7" cy="171.3" r="10.399999999999999"/>
<circle cx="116.6" cy="185.9" r="10.399999999999999"/>
<circle cx="201.6" cy="188.8" r="10.399999999999999"/>
</g>
<circle cx="51.2" cy="5.1" r="9.2" fill="url(#ga22)"/>
<circle cx="68.8" cy="10.2" r="9.2" fill="url(#ga22)"/>
<circle cx="50.5" cy="21.2" r="9.2" fill="url(#ga22)"/>
<circle cx="66.6" cy="30" r="9.2" fill="url(#ga23)"/>
<circle cx="87.8" cy="34.4" r="9.2" fill="url(#ga25)"/>
<circle cx="102.5" cy="19.5" r="9.2" fill="url(#ga24)"/>
<circle cx="16.1" cy="33.7" r="9.2" fill="url(#ga23)"/>
<circle cx="46.1" cy="46.9" r="9.2" fill="url(#ga24)"/>
<circle cx="65.2" cy="50.5" r="9.2" fill="url(#ga23)"/>
<circle cx="83.5" cy="54.9" r="9.2" fill="url(#ga22)"/>
<circle cx="13.2" cy="52" r="9.2" fill="url(#ga22)"/>
<circle cx="29.3" cy="58.6" r="9.2" fill="url(#ga22)"/>
<circle cx="1.5" cy="64.4" r="9.2" fill="url(#ga25)"/>
<circle cx="50.5" cy="65.9" r="9.2" fill="url(#ga24)"/>
<circle cx="70.3" cy="72.5" r="9.2" fill="url(#ga25)"/>
<circle cx="91.5" cy="75.4" r="9.2" fill="url(#ga24)"/>
<circle cx="17.6" cy="70.3" r="9.2" fill="url(#ga23)"/>
<circle cx="36.6" cy="79" r="9.2" fill="url(#ga23)"/>
<circle cx="55.6" cy="86.4" r="9.2" fill="url(#ga23)"/>
<circle cx="77.6" cy="90" r="9.2" fill="url(#ga24)"/>
<circle cx="5.9" cy="83.5" r="9.2" fill="url(#ga24)"/>
<circle cx="23.4" cy="90.8" r="9.2" fill="url(#ga23)"/>
<circle cx="44" cy="99.5" r="9.2" fill="url(#ga23)"/>
<circle cx="100" cy="93.7" r="9.2" fill="url(#ga22)"/>
<circle cx="8" cy="103.5" r="9.2" fill="url(#ga24)"/>
<circle cx="36.6" cy="14.6" r="9.2" fill="url(#ga23)"/>
<circle cx="104" cy="57" r="9.2" fill="url(#ga23)"/>
<circle cx="14.6" cy="0" r="9.2" fill="url(#ga25)"/>
<circle cx="131.3" cy="3.7" r="9.2" fill="url(#ga24)"/>
<circle cx="150.3" cy="8" r="9.2" fill="url(#ga24)"/>
<circle cx="170.8" cy="7.3" r="9.2" fill="url(#ga24)"/>
<circle cx="185.5" cy="1.5" r="9.2" fill="url(#ga24)"/>
<circle cx="198.6" cy="11.7" r="9.2" fill="url(#ga23)"/>
<circle cx="122.5" cy="17.6" r="9.2" fill="url(#ga22)"/>
<circle cx="139.3" cy="25.6" r="9.2" fill="url(#ga22)"/>
<circle cx="159.8" cy="24.2" r="9.2" fill="url(#ga23)"/>
<circle cx="181.1" cy="24.2" r="9.2" fill="url(#ga24)"/>
<circle cx="195.7" cy="35.1" r="9.2" fill="url(#ga25)"/>
<circle cx="111.5" cy="37.3" r="9.2" fill="url(#ga25)"/>
<circle cx="129.8" cy="41" r="9.2" fill="url(#ga22)"/>
<circle cx="148.9" cy="41.7" r="9.2" fill="url(#ga24)"/>
<circle cx="169.3" cy="42.5" r="9.2" fill="url(#ga23)"/>
<circle cx="189.8" cy="49" r="9.2" fill="url(#ga24)"/>
<circle cx="125.4" cy="60.8" r="9.2" fill="url(#ga24)"/>
<circle cx="147.4" cy="63.7" r="9.2" fill="url(#ga22)"/>
<circle cx="169.3" cy="63" r="9.2" fill="url(#ga24)"/>
<circle cx="190.6" cy="68.1" r="9.2" fill="url(#ga22)"/>
<circle cx="112.2" cy="77.6" r="9.2" fill="url(#ga22)"/>
<circle cx="134.9" cy="79.8" r="9.2" fill="url(#ga24)"/>
<circle cx="156.2" cy="82" r="9.2" fill="url(#ga24)"/>
<circle cx="176.7" cy="82.7" r="9.2" fill="url(#ga24)"/>
<circle cx="196.4" cy="86.4" r="9.2" fill="url(#ga22)"/>
<circle cx="121" cy="98" r="9.2" fill="url(#ga25)"/>
<circle cx="142.3" cy="100" r="9.2" fill="url(#ga23)"/>
<circle cx="163.5" cy="101" r="9.2" fill="url(#ga23)"/>
<circle cx="184" cy="102" r="9.2" fill="url(#ga22)"/>
<circle cx="109.3" cy="5.1" r="9.2" fill="url(#ga22)"/>
<circle cx="30.7" cy="112.7" r="9.2" fill="url(#ga25)"/>
<circle cx="64.4" cy="107.6" r="9.2" fill="url(#ga22)"/>
<circle cx="85.7" cy="109.8" r="9.2" fill="url(#ga24)"/>
<circle cx="10.2" cy="122.2" r="9.2" fill="url(#ga22)"/>
<circle cx="51.2" cy="123" r="9.2" fill="url(#ga24)"/>
<circle cx="71.7" cy="125.9" r="9.2" fill="url(#ga24)"/>
<circle cx="93.7" cy="128.8" r="9.2" fill="url(#ga25)"/>
<circle cx="15.4" cy="140.5" r="9.2" fill="url(#ga24)"/>
<circle cx="37.3" cy="141.3" r="9.2" fill="url(#ga24)"/>
<circle cx="59.3" cy="141.3" r="9.2" fill="url(#ga24)"/>
<circle cx="81.3" cy="143.5" r="9.2" fill="url(#ga24)"/>
<circle cx="102" cy="148" r="9.2" fill="url(#ga21)"/>
<circle cx="3.7" cy="155.2" r="9.2" fill="url(#ga23)"/>
<circle cx="24.9" cy="158.1" r="9.2" fill="url(#ga24)"/>
<circle cx="46.1" cy="159.6" r="9.2" fill="url(#ga24)"/>
<circle cx="67.3" cy="158.8" r="9.2" fill="url(#ga25)"/>
<circle cx="89.3" cy="163.2" r="9.2" fill="url(#ga23)"/>
<circle cx="11" cy="173.5" r="9.2" fill="url(#ga24)"/>
<circle cx="32.9" cy="175.7" r="9.2" fill="url(#ga24)"/>
<circle cx="98" cy="183" r="9.2" fill="url(#ga22)"/>
<circle cx="19" cy="191" r="9.2" fill="url(#ga24)"/>
<circle cx="41.7" cy="194.7" r="9.2" fill="url(#ga24)"/>
<circle cx="62.2" cy="194.7" r="9.2" fill="url(#ga24)"/>
<circle cx="84.9" cy="196.2" r="9.2" fill="url(#ga24)"/>
<circle cx="2.2" cy="187.4" r="9.2" fill="url(#ga23)"/>
<circle cx="106.4" cy="115.6" r="9.2" fill="url(#ga23)"/>
<circle cx="128.4" cy="115.6" r="9.2" fill="url(#ga22)"/>
<circle cx="150.3" cy="115.6" r="9.2" fill="url(#ga25)"/>
<circle cx="170.8" cy="119.3" r="9.2" fill="url(#ga24)"/>
<circle cx="192" cy="122.2" r="9.2" fill="url(#ga23)"/>
<circle cx="115.9" cy="132.5" r="9.2" fill="url(#ga24)"/>
<circle cx="137.9" cy="133.9" r="9.2" fill="url(#ga24)"/>
<circle cx="158.4" cy="136.1" r="9.2" fill="url(#ga23)"/>
<circle cx="178.9" cy="139.1" r="9.2" fill="url(#ga22)"/>
<circle cx="197.2" cy="139.8" r="9.2" fill="url(#ga24)"/>
<circle cx="122.5" cy="150.8" r="9.2" fill="url(#ga22)"/>
<circle cx="144.5" cy="153.7" r="9.2" fill="url(#ga22)"/>
<circle cx="166.4" cy="158.1" r="9.2" fill="url(#ga25)"/>
<circle cx="186.9" cy="157.4" r="9.2" fill="url(#ga24)"/>
<circle cx="109.3" cy="167.6" r="9.2" fill="url(#ga24)"/>
<circle cx="131.3" cy="167.6" r="9.2" fill="url(#ga24)"/>
<circle cx="151.8" cy="169.1" r="9.2" fill="url(#ga24)"/>
<circle cx="172.3" cy="169.8" r="9.2" fill="url(#ga25)"/>
<circle cx="195.7" cy="171.3" r="9.2" fill="url(#ga24)"/>
<circle cx="116.6" cy="185.9" r="9.2" fill="url(#ga24)"/>
<circle cx="201.6" cy="188.8" r="9.2" fill="url(#ga24)"/>

<rect x="-8" y="-1" width="217.5" height="2" fill="#303030" opacity="0.55"/>
</g>
</svg>
<svg x="519.8" y="8" width="202.2" height="203.1" viewBox="0 0 202.2 203.1">
<g filter="url(#fa3)">
<rect x="-8" y="-8" width="218.2" height="219.1" fill="#969696"/>

<g filter="url(#halo)" fill="none" stroke="#e0e0e0" stroke-width="1.7" opacity="0.5">
<circle cx="59.3" cy="13.2" r="13.399999999999999"/>
<circle cx="84.9" cy="12.4" r="13.399999999999999"/>
<circle cx="16.1" cy="35.9" r="13.399999999999999"/>
<circle cx="45.4" cy="36.6" r="13.399999999999999"/>
<circle cx="73.2" cy="37.3" r="13.399999999999999"/>
<circle cx="99" cy="41" r="13.399999999999999"/>
<circle cx="2.9" cy="52.7" r="13.399999999999999"/>
<circle cx="30" cy="60" r="13.399999999999999"/>
<circle cx="57.8" cy="59.3" r="13.399999999999999"/>
<circle cx="83.5" cy="64.4" r="13.399999999999999"/>
<circle cx="16.8" cy="82.7" r="13.399999999999999"/>
<circle cx="44.7" cy="81.3" r="13.399999999999999"/>
<circle cx="67.3" cy="84.9" r="13.399999999999999"/>
<circle cx="98" cy="87.5" r="13.399999999999999"/>
<circle cx="24" cy="106" r="13.399999999999999"/>
<circle cx="78" cy="106" r="13.399999999999999"/>
<circle cx="38" cy="5.9" r="13.399999999999999"/>
<circle cx="1.5" cy="14.6" r="13.399999999999999"/>
<circle cx="108" cy="13" r="13.399999999999999"/>
<circle cx="144.5" cy="28.6" r="13.399999999999999"/>
<circle cx="170.8" cy="23.4" r="13.399999999999999"/>
<circle cx="193.5" cy="14.6" r="13.399999999999999"/>
<circle cx="142.3" cy="52" r="13.399999999999999"/>
<circle cx="167.2" cy="49.8" r="13.399999999999999"/>
<circle cx="189.8" cy="41.7" r="13.399999999999999"/>
<circle cx="186.9" cy="68.1" r="13.399999999999999"/>
<circle cx="127.6" cy="82.7" r="13.399999999999999"/>
<circle cx="162" cy="79" r="13.399999999999999"/>
<circle cx="184" cy="92" r="13.399999999999999"/>
<circle cx="141" cy="103.5" r="13.399999999999999"/>
<circle cx="114" cy="104" r="13.399999999999999"/>
<circle cx="181" cy="-2" r="13.399999999999999"/>
<circle cx="204" cy="88" r="13.399999999999999"/>
<circle cx="3.7" cy="109.8" r="13.399999999999999"/>
<circle cx="52.7" cy="113.4" r="13.399999999999999"/>
<circle cx="15.4" cy="128.8" r="13.399999999999999"/>
<circle cx="38" cy="138.3" r="13.399999999999999"/>
<circle cx="68" cy="131.7" r="13.399999999999999"/>
<circle cx="92.2" cy="133.2" r="13.399999999999999"/>
<circle cx="8.8" cy="156.6" r="13.399999999999999"/>
<circle cx="77.6" cy="153.7" r="13.399999999999999"/>
<circle cx="103" cy="154.5" r="13.399999999999999"/>
<circle cx="25.6" cy="174.2" r="13.399999999999999"/>
<circle cx="52" cy="179.3" r="13.399999999999999"/>
<circle cx="74.7" cy="188.1" r="13.399999999999999"/>
<circle cx="8" cy="190.3" r="13.399999999999999"/>
<circle cx="32.2" cy="196.2" r="13.399999999999999"/>
<circle cx="166.4" cy="114.2" r="13.399999999999999"/>
<circle cx="192.8" cy="118.6" r="13.399999999999999"/>
<circle cx="119.6" cy="129.5" r="13.399999999999999"/>
<circle cx="145.2" cy="136.1" r="13.399999999999999"/>
<circle cx="167.9" cy="149.3" r="13.399999999999999"/>
<circle cx="126.9" cy="153.7" r="13.399999999999999"/>
<circle cx="148.9" cy="162.5" r="13.399999999999999"/>
<circle cx="119.6" cy="175.7" r="13.399999999999999"/>
<circle cx="190" cy="206" r="13.399999999999999"/>
</g>
<circle cx="59.3" cy="13.2" r="12.2" fill="url(#ga33)"/>
<circle cx="84.9" cy="12.4" r="12.2" fill="url(#ga33)"/>
<circle cx="16.1" cy="35.9" r="12.2" fill="url(#ga33)"/>
<circle cx="45.4" cy="36.6" r="12.2" fill="url(#ga33)"/>
<circle cx="73.2" cy="37.3" r="12.2" fill="url(#ga34)"/>
<circle cx="99" cy="41" r="12.2" fill="url(#ga33)"/>
<circle cx="2.9" cy="52.7" r="12.2" fill="url(#ga34)"/>
<circle cx="30" cy="60" r="12.2" fill="url(#ga34)"/>
<circle cx="57.8" cy="59.3" r="12.2" fill="url(#ga34)"/>
<circle cx="83.5" cy="64.4" r="12.2" fill="url(#ga33)"/>
<circle cx="16.8" cy="82.7" r="12.2" fill="url(#ga34)"/>
<circle cx="44.7" cy="81.3" r="12.2" fill="url(#ga34)"/>
<circle cx="67.3" cy="84.9" r="12.2" fill="url(#ga34)"/>
<circle cx="98" cy="87.5" r="12.2" fill="url(#ga34)"/>
<circle cx="24" cy="106" r="12.2" fill="url(#ga34)"/>
<circle cx="78" cy="106" r="12.2" fill="url(#ga33)"/>
<circle cx="38" cy="5.9" r="12.2" fill="url(#ga34)"/>
<circle cx="1.5" cy="14.6" r="12.2" fill="url(#ga34)"/>
<circle cx="108" cy="13" r="12.2" fill="url(#ga34)"/>
<circle cx="144.5" cy="28.6" r="12.2" fill="url(#ga34)"/>
<circle cx="170.8" cy="23.4" r="12.2" fill="url(#ga33)"/>
<circle cx="193.5" cy="14.6" r="12.2" fill="url(#ga33)"/>
<circle cx="142.3" cy="52" r="12.2" fill="url(#ga34)"/>
<circle cx="167.2" cy="49.8" r="12.2" fill="url(#ga34)"/>
<circle cx="189.8" cy="41.7" r="12.2" fill="url(#ga33)"/>
<circle cx="186.9" cy="68.1" r="12.2" fill="url(#ga34)"/>
<circle cx="127.6" cy="82.7" r="12.2" fill="url(#ga34)"/>
<circle cx="162" cy="79" r="12.2" fill="url(#ga33)"/>
<circle cx="184" cy="92" r="12.2" fill="url(#ga33)"/>
<circle cx="141" cy="103.5" r="12.2" fill="url(#ga34)"/>
<circle cx="114" cy="104" r="12.2" fill="url(#ga33)"/>
<circle cx="181" cy="-2" r="12.2" fill="url(#ga31)"/>
<circle cx="204" cy="88" r="12.2" fill="url(#ga33)"/>
<circle cx="3.7" cy="109.8" r="12.2" fill="url(#ga34)"/>
<circle cx="52.7" cy="113.4" r="12.2" fill="url(#ga34)"/>
<circle cx="15.4" cy="128.8" r="12.2" fill="url(#ga34)"/>
<circle cx="38" cy="138.3" r="12.2" fill="url(#ga34)"/>
<circle cx="68" cy="131.7" r="12.2" fill="url(#ga34)"/>
<circle cx="92.2" cy="133.2" r="12.2" fill="url(#ga34)"/>
<circle cx="8.8" cy="156.6" r="12.2" fill="url(#ga34)"/>
<circle cx="77.6" cy="153.7" r="12.2" fill="url(#ga33)"/>
<circle cx="103" cy="154.5" r="12.2" fill="url(#ga34)"/>
<circle cx="25.6" cy="174.2" r="12.2" fill="url(#ga34)"/>
<circle cx="52" cy="179.3" r="12.2" fill="url(#ga32)"/>
<circle cx="74.7" cy="188.1" r="12.2" fill="url(#ga34)"/>
<circle cx="8" cy="190.3" r="12.2" fill="url(#ga34)"/>
<circle cx="32.2" cy="196.2" r="12.2" fill="url(#ga34)"/>
<circle cx="166.4" cy="114.2" r="12.2" fill="url(#ga34)"/>
<circle cx="192.8" cy="118.6" r="12.2" fill="url(#ga32)"/>
<circle cx="119.6" cy="129.5" r="12.2" fill="url(#ga34)"/>
<circle cx="145.2" cy="136.1" r="12.2" fill="url(#ga34)"/>
<circle cx="167.9" cy="149.3" r="12.2" fill="url(#ga34)"/>
<circle cx="126.9" cy="153.7" r="12.2" fill="url(#ga34)"/>
<circle cx="148.9" cy="162.5" r="12.2" fill="url(#ga34)"/>
<circle cx="119.6" cy="175.7" r="12.2" fill="url(#ga34)"/>
<circle cx="190" cy="206" r="12.2" fill="url(#ga34)"/>
<g stroke="#a8a8a8" stroke-width="1.5" opacity="0.6" stroke-linecap="round"><path d="M62 33 L84 44"/><path d="M63 38 L83 48"/><path d="M66 160 L90 147"/><path d="M58 80 L76 90"/><path d="M145 126 L146 140"/><path d="M158 122 L172 108"/><path d="M140 170 L160 162"/><path d="M40 30 L50 44"/><path d="M160 50 L176 48"/><path d="M135 30 L155 26"/><path d="M172 12 L168 34"/></g><ellipse cx="57" cy="174" rx="8" ry="6" fill="#101010" opacity="0.85" transform="rotate(35 57 174)"/><ellipse cx="92" cy="5" rx="6" ry="5" fill="#202020" opacity="0.7"/><circle cx="27" cy="62" r="3.5" fill="#b0b0b0" opacity="0.7"/><circle cx="116.6" cy="161" r="3" fill="#e8e8e8" opacity="0.8"/>
<rect x="-8" y="-1" width="218.2" height="2" fill="#303030" opacity="0.55"/>
</g>
</svg>
<svg x="14" y="216" width="201" height="201.2" viewBox="0 0 201 201.2">
<g filter="url(#fb1)">
<rect x="-8" y="-8" width="220" height="220" fill="url(#pb1)" filter="url(#fb1c)"/><rect x="-8" y="-8" width="220" height="220" fill="#2a2a2a" opacity="0.32"/><rect x="-8" y="-8" width="220" height="220" fill="url(#lgb1)"/><rect x="-8" y="-8" width="220" height="220" fill="url(#rgb1)"/><circle cx="139.5" cy="18.3" r="2.4" fill="#fff" opacity="0.55"/><circle cx="151.2" cy="22.7" r="2.4" fill="#fff" opacity="0.55"/><circle cx="138.8" cy="31.5" r="2.4" fill="#fff" opacity="0.55"/><circle cx="166.6" cy="15.4" r="2.4" fill="#fff" opacity="0.55"/><circle cx="192.2" cy="51.2" r="2.4" fill="#fff" opacity="0.55"/><circle cx="173.2" cy="43.9" r="2.4" fill="#fff" opacity="0.55"/><circle cx="183" cy="22" r="2.4" fill="#fff" opacity="0.55"/><circle cx="196" cy="78" r="2.4" fill="#fff" opacity="0.55"/><circle cx="160" cy="60" r="2.4" fill="#fff" opacity="0.55"/><circle cx="168" cy="51" r="2.6" fill="#000" opacity="0.5"/><circle cx="130" cy="27" r="2.6" fill="#000" opacity="0.5"/><circle cx="150" cy="40" r="2.6" fill="#000" opacity="0.5"/>
</g></svg>
<svg x="267.2" y="215.2" width="202.5" height="202" viewBox="0 0 202.5 202">
<g filter="url(#fb2)">
<rect x="-8" y="-8" width="220" height="220" fill="url(#pb2)" filter="url(#fb2c)"/><rect x="-8" y="-8" width="220" height="220" fill="url(#pb2c)" opacity="0.1"/><rect x="-8" y="-8" width="220" height="220" fill="url(#rgb2)"/><rect x="-8" y="-8" width="220" height="220" fill="url(#lgb2t)"/><circle cx="21.4" cy="123.3" r="2.6" fill="#fff" opacity="0.6"/><circle cx="30.8" cy="150.7" r="2.6" fill="#fff" opacity="0.6"/><circle cx="35" cy="177.2" r="2.6" fill="#fff" opacity="0.6"/><circle cx="46.2" cy="171.2" r="2.6" fill="#fff" opacity="0.6"/><circle cx="17.1" cy="137.8" r="2.6" fill="#fff" opacity="0.6"/><circle cx="4.3" cy="131.9" r="2.6" fill="#fff" opacity="0.6"/><circle cx="45.3" cy="196" r="2.6" fill="#fff" opacity="0.6"/><circle cx="7.3" cy="74.6" r="2.6" fill="#fff" opacity="0.6"/><circle cx="14" cy="100" r="2.6" fill="#fff" opacity="0.6"/><circle cx="24" cy="58" r="2.6" fill="#fff" opacity="0.6"/><circle cx="10" cy="40" r="2.6" fill="#fff" opacity="0.6"/><circle cx="40" cy="20" r="2.6" fill="#fff" opacity="0.6"/><circle cx="70" cy="8" r="2.6" fill="#fff" opacity="0.6"/><circle cx="12" cy="180" r="2.6" fill="#fff" opacity="0.6"/><circle cx="102.5" cy="19" r="3.2" fill="#000" opacity="0.65"/><circle cx="112.7" cy="22" r="3.2" fill="#000" opacity="0.65"/><circle cx="92" cy="28" r="3.2" fill="#000" opacity="0.65"/>
</g></svg>
<svg x="520.1" y="216" width="201" height="201.2" viewBox="0 0 201 201.2">
<g filter="url(#fb3)">
<rect x="-8" y="-8" width="220" height="220" fill="url(#pb3)" filter="url(#fb3c)"/><rect x="-8" y="-8" width="220" height="220" fill="url(#pb3c)" opacity="0.12"/><rect x="-8" y="-8" width="220" height="220" fill="url(#lgb3)"/><rect x="-8" y="-8" width="220" height="220" fill="url(#lgb3t)"/>
</g></svg>
<g opacity="0.996">
<rect x="16.9" y="11.9" width="32.1" height="19.6" fill="#fff"/>
<text x="19.6" y="26.8" font-size="16" fill="#222">(A<tspan font-size="9.3" dy="1.7">1</tspan><tspan dy="-1.7">)</tspan></text>
<rect x="270.2" y="11.9" width="31.8" height="19.5" fill="#fff"/>
<text x="272.8" y="26.8" font-size="16" fill="#222">(A<tspan font-size="9.3" dy="1.7">2</tspan><tspan dy="-1.7">)</tspan></text>
<rect x="523.2" y="11.9" width="31" height="19.5" fill="#fff"/>
<text x="525.6" y="26.8" font-size="16" fill="#222">(A<tspan font-size="9.3" dy="1.7">3</tspan><tspan dy="-1.7">)</tspan></text>
<rect x="16.9" y="219.3" width="32.2" height="18.7" fill="#fff"/>
<text x="19.8" y="232.7" font-size="16" fill="#222">(B<tspan font-size="9.3" dy="1.7">1</tspan><tspan dy="-1.7">)</tspan></text>
<rect x="270.5" y="219.2" width="31.5" height="18.8" fill="#fff"/>
<text x="273" y="232.6" font-size="16" fill="#222">(B<tspan font-size="9.3" dy="1.7">2</tspan><tspan dy="-1.7">)</tspan></text>
<rect x="523.4" y="219.3" width="31.8" height="18.7" fill="#fff"/>
<text x="526" y="232.7" font-size="16" fill="#222">(B<tspan font-size="9.3" dy="1.7">3</tspan><tspan dy="-1.7">)</tspan></text>
<rect x="140.2" y="181.4" width="71.1" height="25.3" fill="#fff"/>
<path d="M144.3 198.0 V204.2 H208 V198.0" fill="none" stroke="#111" stroke-width="1.45"/>
<text x="175.3" y="194.7" font-size="16" fill="#222" text-anchor="middle">50 nm</text>
<rect x="393.3" y="181.4" width="71.5" height="25.3" fill="#fff"/>
<path d="M397.6 198.0 V204.2 H461.2 V198.0" fill="none" stroke="#111" stroke-width="1.45"/>
<text x="428.6" y="194.7" font-size="16" fill="#222" text-anchor="middle">50 nm</text>
<rect x="645.5" y="181.4" width="73.7" height="25.3" fill="#fff"/>
<path d="M649.8 198.0 V204.2 H715.7 V198.0" fill="none" stroke="#111" stroke-width="1.45"/>
<text x="683.1" y="194.7" font-size="16" fill="#222" text-anchor="middle">50 nm</text>
<rect x="158.9" y="389" width="52.8" height="25.8" fill="#fff"/>
<path d="M169.8 405.40000000000003 V411.6 H201.6 V405.40000000000003" fill="none" stroke="#111" stroke-width="1.45"/>
<text x="185.8" y="402.5" font-size="16" fill="#222" text-anchor="middle">2 nm</text>
<rect x="412.6" y="389" width="52" height="25.8" fill="#fff"/>
<path d="M415.9 405.40000000000003 V411.6 H461.7 V405.40000000000003" fill="none" stroke="#111" stroke-width="1.45"/>
<text x="438.3" y="402.5" font-size="16" fill="#222" text-anchor="middle">2 nm</text>
<rect x="666.8" y="389.3" width="52.3" height="25.4" fill="#fff"/>
<path d="M676.5 405.40000000000003 V411.6 H709.7 V405.40000000000003" fill="none" stroke="#111" stroke-width="1.45"/>
<text x="692.8" y="402.5" font-size="16" fill="#222" text-anchor="middle">2 nm</text>
<path d="M97.3 294.3 L126.3 341.2" stroke="#fff" stroke-width="2.6" fill="none"/><path d="M103.5 291.7 L131.8 337.8" stroke="#fff" stroke-width="2.6" fill="none"/>
<path d="M152.7 293.1 L127.5 308.1" stroke="#eee" stroke-width="1.1" fill="none"/><path d="M121.9 311.4 L126.3 306.0 L128.7 310.1Z" fill="#eee"/>
<path d="M68.2 335.3 L99.1 321.1" stroke="#eee" stroke-width="1.1" fill="none"/><path d="M105.0 318.4 L100.1 323.3 L98.1 318.9Z" fill="#eee"/>
<text x="130.3" y="266.9" font-size="15.2" fill="#e2e2e2" text-anchor="middle" word-spacing="1.2">0.28 nm</text>
<text x="130.6" y="282.7" font-size="15.5" fill="#e2e2e2" text-anchor="middle" word-spacing="1.2">(110)</text>
<path d="M347.3 305 L361 346.3" stroke="#fff" stroke-width="2.6" fill="none"/><path d="M358.9 302 L372.9 343" stroke="#fff" stroke-width="2.6" fill="none"/>
<path d="M316.7 330.4 L341.6 326.4" stroke="#eee" stroke-width="1.1" fill="none"/><path d="M348.0 325.4 L342.0 328.8 L341.2 324.1Z" fill="#eee"/>
<path d="M395.3 318.0 L376.0 321.4" stroke="#eee" stroke-width="1.1" fill="none"/><path d="M369.6 322.5 L375.6 319.0 L376.4 323.7Z" fill="#eee"/>
<text x="386.6" y="283.3" font-size="15.2" fill="#e2e2e2" text-anchor="middle" word-spacing="1.2">0.31 nm</text>
<text x="387.6" y="298.9" font-size="16" fill="#e2e2e2" text-anchor="middle" word-spacing="1.2">(112)</text>
<path d="M600.5 302.9 L621.6 336.5" stroke="#fff" stroke-width="2.6" fill="none"/><path d="M609 298 L630.6 331.7" stroke="#fff" stroke-width="2.6" fill="none"/>
<path d="M648.5 300.4 L629.0 311.6" stroke="#eee" stroke-width="1.1" fill="none"/><path d="M623.4 314.8 L627.8 309.5 L630.2 313.6Z" fill="#eee"/>
<path d="M583.6 334.7 L600.5 326.6" stroke="#eee" stroke-width="1.1" fill="none"/><path d="M606.4 323.8 L601.6 328.8 L599.5 324.4Z" fill="#eee"/>
<text x="622.7" y="273.2" font-size="15.2" fill="#e2e2e2" text-anchor="middle" word-spacing="1.2">0.48 nm</text>
<text x="623.3" y="288.7" font-size="15.5" fill="#e2e2e2" text-anchor="middle" word-spacing="1.2">(100)</text>
<rect x="74.7" y="427.6" width="139.60000000000002" height="209.79999999999995" fill="#fff" stroke="#3a3a3a" stroke-width="1.3"/>
<path d="M74.7 460.4 h6.8" stroke="#3a3a3a" stroke-width="1.2"/>
<text x="66" y="465.79999999999995" font-size="16" fill="#222" text-anchor="end">40</text>
<path d="M74.7 500.2 h6.8" stroke="#3a3a3a" stroke-width="1.2"/>
<text x="66" y="505.59999999999997" font-size="16" fill="#222" text-anchor="end">30</text>
<path d="M74.7 540.9 h6.8" stroke="#3a3a3a" stroke-width="1.2"/>
<text x="66" y="546.3" font-size="16" fill="#222" text-anchor="end">20</text>
<path d="M74.7 581.6 h6.8" stroke="#3a3a3a" stroke-width="1.2"/>
<text x="66" y="587.0" font-size="16" fill="#222" text-anchor="end">10</text>
<path d="M74.7 621.9 h6.8" stroke="#3a3a3a" stroke-width="1.2"/>
<text x="66" y="627.3" font-size="16" fill="#222" text-anchor="end">0</text>
<text x="74" y="655.3" font-size="16" fill="#222" text-anchor="middle">1</text>
<path d="M143.8 637.4 v-7" stroke="#3a3a3a" stroke-width="1.2"/>
<text x="144.9" y="655.3" font-size="16" fill="#222" text-anchor="middle">10</text>
<path d="M213.3 637.4 v-7" stroke="#3a3a3a" stroke-width="1.2"/>
<text x="213.2" y="655.3" font-size="16" fill="#222" text-anchor="middle">100</text>
<path d="M75.2 621.9 L148.1 621.9 L152.0 618.7 L153.9 600.6 L157.4 572.8 L159.5 538.0 L161.5 504.3 L165.9 500.4 L167.6 526.4 L169.9 556.5 L172.9 582.0 L176.4 602.9 L179.9 614.5 L184.5 619.1 L190.3 621.0 L199.6 621.9 L213.8 622.0" fill="none" stroke="#000" stroke-width="3.6" stroke-linejoin="round" stroke-linecap="butt"/>
<text x="80" y="447" font-size="16" fill="#222">(C<tspan font-size="9.3" dy="1.7">1</tspan><tspan dy="-1.7">)</tspan></text>
<text x="122.7" y="484.2" font-size="16" fill="#222">(21±1) nm</text>
<text transform="translate(32.9 533.2) rotate(-90)" font-size="16.4" fill="#222" text-anchor="middle">Percentage(%)</text>
<text x="145.2" y="674.6" font-size="16" fill="#222" text-anchor="middle">Diameter/nm</text>
<rect x="329.6" y="427.6" width="139.89999999999998" height="209.79999999999995" fill="#fff" stroke="#3a3a3a" stroke-width="1.3"/>
<path d="M329.6 468 h6.8" stroke="#3a3a3a" stroke-width="1.2"/>
<text x="321.3" y="473.4" font-size="16" fill="#222" text-anchor="end">30</text>
<path d="M329.6 518.1 h6.8" stroke="#3a3a3a" stroke-width="1.2"/>
<text x="321.3" y="523.5" font-size="16" fill="#222" text-anchor="end">20</text>
<path d="M329.6 568.2 h6.8" stroke="#3a3a3a" stroke-width="1.2"/>
<text x="321.3" y="573.6" font-size="16" fill="#222" text-anchor="end">10</text>
<path d="M329.6 618.3 h6.8" stroke="#3a3a3a" stroke-width="1.2"/>
<text x="321.3" y="623.6999999999999" font-size="16" fill="#222" text-anchor="end">0</text>
<text x="328.7" y="655.3" font-size="16" fill="#222" text-anchor="middle">1</text>
<path d="M398.5 637.4 v-7" stroke="#3a3a3a" stroke-width="1.2"/>
<text x="400" y="655.3" font-size="16" fill="#222" text-anchor="middle">10</text>
<path d="M468.3 637.4 v-7" stroke="#3a3a3a" stroke-width="1.2"/>
<text x="467.5" y="655.3" font-size="16" fill="#222" text-anchor="middle">100</text>
<path d="M330.1 618.4 L407.5 618.4 L411.7 599.4 L414.0 572.8 L417.0 538.0 L419.3 510.1 L420.5 501.6 L424.9 507.8 L426.7 521.7 L429.8 544.9 L433.7 572.8 L438.3 593.6 L443.0 606.4 L448.8 614.0 L454.6 617.0 L461.5 618.2 L469.0 618.4" fill="none" stroke="#000" stroke-width="3.6" stroke-linejoin="round" stroke-linecap="butt"/>
<text x="336" y="447" font-size="16" fill="#222">(C<tspan font-size="9.3" dy="1.7">2</tspan><tspan dy="-1.7">)</tspan></text>
<text x="388" y="490.3" font-size="16" fill="#222">(19±2) nm</text>
<text transform="translate(287.8 533.2) rotate(-90)" font-size="16.4" fill="#222" text-anchor="middle">Percentage(%)</text>
<text x="399.1" y="674.6" font-size="16" fill="#222" text-anchor="middle">Diameter/nm</text>
<rect x="580.3" y="427.6" width="139.5" height="209.79999999999995" fill="#fff" stroke="#3a3a3a" stroke-width="1.3"/>
<path d="M580.3 468 h6.8" stroke="#3a3a3a" stroke-width="1.2"/>
<text x="571.8" y="473.4" font-size="16" fill="#222" text-anchor="end">30</text>
<path d="M580.3 518.1 h6.8" stroke="#3a3a3a" stroke-width="1.2"/>
<text x="571.8" y="523.5" font-size="16" fill="#222" text-anchor="end">20</text>
<path d="M580.3 568.2 h6.8" stroke="#3a3a3a" stroke-width="1.2"/>
<text x="571.8" y="573.6" font-size="16" fill="#222" text-anchor="end">10</text>
<path d="M580.3 618.3 h6.8" stroke="#3a3a3a" stroke-width="1.2"/>
<text x="571.8" y="623.6999999999999" font-size="16" fill="#222" text-anchor="end">0</text>
<text x="578.8" y="655.3" font-size="16" fill="#222" text-anchor="middle">1</text>
<path d="M649.6 637.4 v-7" stroke="#3a3a3a" stroke-width="1.2"/>
<text x="649.2" y="655.3" font-size="16" fill="#222" text-anchor="middle">10</text>
<path d="M718.6 637.4 v-7" stroke="#3a3a3a" stroke-width="1.2"/>
<text x="717.7" y="655.3" font-size="16" fill="#222" text-anchor="middle">100</text>
<path d="M580.8 618.4 L658.2 618.4 L662.8 605.2 L665.6 577.4 L668.6 538.0 L671.6 492.8 L676.3 489.7 L677.9 510.1 L681.4 544.9 L684.9 575.1 L688.8 598.3 L693.0 611.0 L698.8 616.8 L706.9 618.2 L719.2 618.4" fill="none" stroke="#000" stroke-width="3.6" stroke-linejoin="round" stroke-linecap="butt"/>
<text x="587.8" y="447" font-size="16" fill="#222">(C<tspan font-size="9.3" dy="1.7">3</tspan><tspan dy="-1.7">)</tspan></text>
<text x="632.2" y="481.0" font-size="16" fill="#222">(23±1.5) nm</text>
<text transform="translate(540.1 533.2) rotate(-90)" font-size="16.4" fill="#222" text-anchor="middle">Percentage(%)</text>
<text x="651.1" y="674.6" font-size="16" fill="#222" text-anchor="middle">Diameter/nm</text>
</g>
</svg></body></html>
